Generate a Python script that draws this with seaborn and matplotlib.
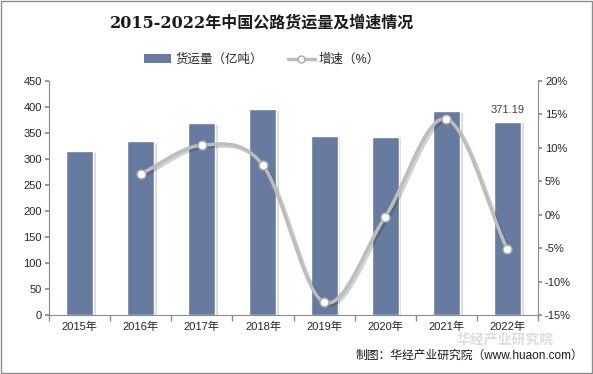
import numpy as np
import pandas as pd
import matplotlib
matplotlib.use("Agg")
import matplotlib.pyplot as plt
import matplotlib.patheffects as pe
from matplotlib.lines import Line2D
from matplotlib.patches import Patch
import seaborn as sns

years = ["2015年", "2016年", "2017年", "2018年", "2019年", "2020年", "2021年", "2022年"]
volume = [315.0, 334.1, 368.7, 395.7, 343.5, 342.6, 391.4, 371.19]
growth_years = ["2016年", "2017年", "2018年", "2019年", "2020年", "2021年", "2022年"]
growth = [6.1, 10.4, 7.4, -13.1, -0.3, 14.3, -5.2]
left_ticks = [0, 50, 100, 150, 200, 250, 300, 350, 400, 450]
right_ticks = [-15, -10, -5, 0, 5, 10, 15, 20]

sns.set_theme(style="white")
plt.rcParams['font.family'] = ['Liberation Sans', 'Noto Sans CJK SC', 'DejaVu Sans']

bar_color = "#677BA0"
line_color = "#BDBDBD"
axis_color = "#8C8C8C"

fig = plt.figure(figsize=(5.93, 3.74), dpi=100)
ax = fig.add_axes([49/593, 1-315/374, (538-49)/593, (315-81)/374])

df = pd.DataFrame({"year": years, "volume": volume})
sns.barplot(data=df, x="year", y="volume", color=bar_color, width=0.44,
            saturation=1, ax=ax, order=years)
for p in ax.patches:
    p.set_path_effects([pe.SimplePatchShadow(offset=(2, -1), shadow_rgbFace="#999999", alpha=0.35), pe.Normal()])

ax.set_ylim(0, 450)
ax.set_xlim(-0.5, len(years) - 0.5)
ax.set_yticks(left_ticks)
ax.set_xlabel("")
ax.set_ylabel("")
ax.tick_params(axis="y", labelsize=8, length=3, color=axis_color, left=True, pad=2)
ax.tick_params(axis="x", labelsize=8, length=0, pad=5)
ax.set_xticks(np.arange(-0.5, len(years), 1.0), minor=True)
ax.tick_params(axis="x", which="minor", length=4, color=axis_color, bottom=True)
for s in ["top", "right"]:
    ax.spines[s].set_visible(False)
for s in ["left", "bottom"]:
    ax.spines[s].set_color(axis_color)
    ax.spines[s].set_linewidth(0.8)

ax.annotate("371.19", xy=(7, volume[-1]), xytext=(0, 5), textcoords="offset points",
            ha="center", va="bottom", fontsize=8, color="#404040")

ax2 = ax.twinx()
xpos = np.array([years.index(y) for y in growth_years], dtype=float)
gy = np.array(growth, dtype=float)
# Catmull-Rom smoothing (Excel-like smoothed line)
P = np.vstack([xpos, gy]).T
ext = np.vstack([P[0] - (P[1] - P[0]), P, P[-1] + (P[-1] - P[-2])])
curve = []
for i in range(1, len(ext) - 2):
    p0, p1, p2, p3 = ext[i-1], ext[i], ext[i+1], ext[i+2]
    c1 = p1 + (p2 - p0) / 6
    c2 = p2 - (p3 - p1) / 6
    t = np.linspace(0, 1, 40)[:, None]
    seg = (1-t)**3 * p1 + 3*(1-t)**2*t*c1 + 3*(1-t)*t**2*c2 + t**3*p2
    curve.append(seg)
curve = np.vstack(curve)
sns.lineplot(x=curve[:, 0], y=curve[:, 1], ax=ax2, color=line_color, linewidth=2.5,
             sort=False, estimator=None,
             path_effects=[pe.SimpleLineShadow(offset=(1.5, -1.5), alpha=0.2), pe.Normal()])
sns.scatterplot(x=xpos, y=gy, ax=ax2, s=42, color="white", edgecolor="#A6A6A6",
                linewidth=1.0, zorder=5)
ax2.set_ylim(-15, 20)
ax2.set_yticks(right_ticks)
ax2.set_yticklabels([f"{v}%" for v in right_ticks])
ax2.tick_params(axis="y", labelsize=8, length=3, color=axis_color, right=True, pad=2)
for s in ["top", "left", "bottom"]:
    ax2.spines[s].set_visible(False)
ax2.spines["right"].set_color(axis_color)
ax2.spines["right"].set_linewidth(0.8)
ax2.set_ylabel("")
ax2.grid(False)
ax.grid(False)

fig.text(262/593, 1-23/374, "2015-2022年中国公路货运量及增速情况", ha="center", va="center",
         fontsize=11.5, fontweight="bold", family=['DejaVu Serif', 'Noto Sans CJK SC'], color="#1a1a1a")

handles = [Patch(facecolor=bar_color, edgecolor="none"),
           Line2D([0], [0], color=line_color, linewidth=2.5, marker="o", markersize=5,
                  markerfacecolor="white", markeredgecolor="#A6A6A6")]
fig.legend(handles, ["货运量（亿吨）", "增速（%）"], loc="center", bbox_to_anchor=(262/593, 1-60/374),
           ncol=2, frameon=False, fontsize=9, handlelength=2.2, handletextpad=0.3,
           columnspacing=2.0)

# watermark (faint)
fig.text(505/593, 1-340/374, "华经产业研究院", ha="center", va="center", fontsize=10,
         color="#cfcfcf", alpha=0.7, fontweight="bold")

fig.text(583/593, 1-356/374, "制图：华经产业研究院（www.huaon.com）", ha="right", va="center",
         fontsize=8.5, color="#1a1a1a")

fig.patches.append(plt.Rectangle((0.002, 0.003), 0.996, 0.994, transform=fig.transFigure,
                                 fill=False, edgecolor="#8C8C8C", linewidth=1.0))

fig.savefig("out.png", dpi=100)
